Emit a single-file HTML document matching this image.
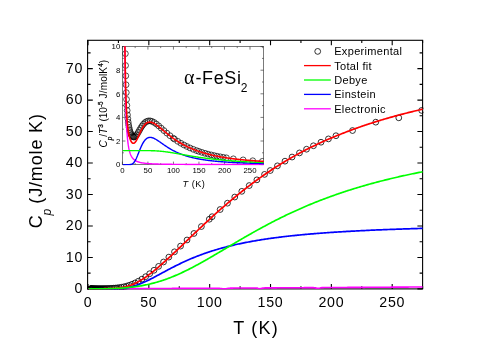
<!DOCTYPE html><html><head><meta charset="utf-8"><style>html,body{margin:0;padding:0;background:#fff}body{width:491px;height:347px;position:relative;overflow:hidden}</style></head><body><svg width="491" height="347" viewBox="0 0 491 347" style="position:absolute;left:0;top:0;will-change:transform">
<rect x="0" y="0" width="491" height="347" fill="#fff"/>
<defs><clipPath id="cm"><rect x="87.5" y="40" width="336" height="249.5"/></clipPath><clipPath id="ci"><rect x="122.2" y="46.3" width="141.6" height="119.2"/></clipPath></defs>
<g stroke="#000" stroke-width="1.1" fill="none">
<rect x="87.6" y="40.3" width="335" height="248.6"/>
<path d="M88.00,288.9v-5 M88.00,40.3v5 M118.42,288.9v-2.6 M118.42,40.3v2.6 M148.84,288.9v-5 M148.84,40.3v5 M179.26,288.9v-2.6 M179.26,40.3v2.6 M209.68,288.9v-5 M209.68,40.3v5 M240.10,288.9v-2.6 M240.10,40.3v2.6 M270.52,288.9v-5 M270.52,40.3v5 M300.94,288.9v-2.6 M300.94,40.3v2.6 M331.36,288.9v-5 M331.36,40.3v5 M361.78,288.9v-2.6 M361.78,40.3v2.6 M392.20,288.9v-5 M392.20,40.3v5 M422.62,288.9v-2.6 M422.62,40.3v2.6 M87.6,288.90h5.2 M422.6,288.90h-5.2 M87.6,273.16h3 M422.6,273.16h-3 M87.6,257.43h5.2 M422.6,257.43h-5.2 M87.6,241.69h3 M422.6,241.69h-3 M87.6,225.96h5.2 M422.6,225.96h-5.2 M87.6,210.22h3 M422.6,210.22h-3 M87.6,194.49h5.2 M422.6,194.49h-5.2 M87.6,178.75h3 M422.6,178.75h-3 M87.6,163.02h5.2 M422.6,163.02h-5.2 M87.6,147.28h3 M422.6,147.28h-3 M87.6,131.55h5.2 M422.6,131.55h-5.2 M87.6,115.81h3 M422.6,115.81h-3 M87.6,100.08h5.2 M422.6,100.08h-5.2 M87.6,84.34h3 M422.6,84.34h-3 M87.6,68.61h5.2 M422.6,68.61h-5.2 M87.6,52.88h3 M422.6,52.88h-3"/>
</g>
<g clip-path="url(#cm)">
<g stroke="#000" stroke-width="0.8" fill="none">
<circle cx="90.40" cy="288.88" r="2.9"/>
<circle cx="90.56" cy="288.88" r="2.9"/>
<circle cx="90.74" cy="288.88" r="2.9"/>
<circle cx="90.94" cy="288.88" r="2.9"/>
<circle cx="91.14" cy="288.88" r="2.9"/>
<circle cx="91.36" cy="288.88" r="2.9"/>
<circle cx="91.60" cy="288.87" r="2.9"/>
<circle cx="91.85" cy="288.87" r="2.9"/>
<circle cx="92.12" cy="288.87" r="2.9"/>
<circle cx="92.41" cy="288.87" r="2.9"/>
<circle cx="92.72" cy="288.86" r="2.9"/>
<circle cx="93.05" cy="288.86" r="2.9"/>
<circle cx="93.40" cy="288.86" r="2.9"/>
<circle cx="93.78" cy="288.85" r="2.9"/>
<circle cx="94.18" cy="288.85" r="2.9"/>
<circle cx="94.61" cy="288.85" r="2.9"/>
<circle cx="95.08" cy="288.84" r="2.9"/>
<circle cx="95.57" cy="288.84" r="2.9"/>
<circle cx="96.10" cy="288.83" r="2.9"/>
<circle cx="96.67" cy="288.82" r="2.9"/>
<circle cx="97.28" cy="288.81" r="2.9"/>
<circle cx="97.92" cy="288.81" r="2.9"/>
<circle cx="98.62" cy="288.79" r="2.9"/>
<circle cx="99.36" cy="288.78" r="2.9"/>
<circle cx="100.16" cy="288.77" r="2.9"/>
<circle cx="101.01" cy="288.75" r="2.9"/>
<circle cx="101.92" cy="288.73" r="2.9"/>
<circle cx="102.89" cy="288.71" r="2.9"/>
<circle cx="103.94" cy="288.68" r="2.9"/>
<circle cx="105.05" cy="288.64" r="2.9"/>
<circle cx="106.25" cy="288.60" r="2.9"/>
<circle cx="107.52" cy="288.55" r="2.9"/>
<circle cx="108.89" cy="288.49" r="2.9"/>
<circle cx="110.35" cy="288.42" r="2.9"/>
<circle cx="111.92" cy="288.33" r="2.9"/>
<circle cx="113.59" cy="288.21" r="2.9"/>
<circle cx="115.38" cy="288.06" r="2.9"/>
<circle cx="117.30" cy="287.86" r="2.9"/>
<circle cx="119.35" cy="287.60" r="2.9"/>
<circle cx="121.54" cy="287.25" r="2.9"/>
<circle cx="123.89" cy="286.78" r="2.9"/>
<circle cx="126.41" cy="286.16" r="2.9"/>
<circle cx="129.09" cy="285.34" r="2.9"/>
<circle cx="131.97" cy="284.28" r="2.9"/>
<circle cx="135.05" cy="282.93" r="2.9"/>
<circle cx="138.34" cy="281.24" r="2.9"/>
<circle cx="141.87" cy="279.17" r="2.9"/>
<circle cx="145.64" cy="276.68" r="2.9"/>
<circle cx="149.67" cy="273.73" r="2.9"/>
<circle cx="153.99" cy="270.29" r="2.9"/>
<circle cx="158.61" cy="266.37" r="2.9"/>
<circle cx="163.55" cy="261.98" r="2.9"/>
<circle cx="168.84" cy="257.12" r="2.9"/>
<circle cx="174.50" cy="251.82" r="2.9"/>
<circle cx="180.55" cy="246.11" r="2.9"/>
<circle cx="187.03" cy="239.99" r="2.9"/>
<circle cx="193.96" cy="233.46" r="2.9"/>
<circle cx="201.38" cy="226.54" r="2.9"/>
<circle cx="209.31" cy="219.24" r="2.9"/>
<circle cx="212.11" cy="216.69" r="2.9"/>
<circle cx="220.14" cy="209.52" r="2.9"/>
<circle cx="227.45" cy="203.19" r="2.9"/>
<circle cx="234.75" cy="197.05" r="2.9"/>
<circle cx="241.80" cy="191.33" r="2.9"/>
<circle cx="249.23" cy="185.55" r="2.9"/>
<circle cx="256.89" cy="179.84" r="2.9"/>
<circle cx="264.56" cy="174.39" r="2.9"/>
<circle cx="270.28" cy="170.51" r="2.9"/>
<circle cx="277.46" cy="165.83" r="2.9"/>
<circle cx="285.00" cy="161.17" r="2.9"/>
<circle cx="292.06" cy="157.04" r="2.9"/>
<circle cx="299.48" cy="152.92" r="2.9"/>
<circle cx="306.54" cy="149.22" r="2.9"/>
<circle cx="313.47" cy="145.77" r="2.9"/>
<circle cx="321.02" cy="142.22" r="2.9"/>
<circle cx="328.44" cy="138.91" r="2.9"/>
<circle cx="335.98" cy="135.72" r="2.9"/>
<circle cx="352.53" cy="130.54" r="2.9"/>
<circle cx="375.77" cy="122.16" r="2.9"/>
<circle cx="398.77" cy="117.83" r="2.9"/>
<circle cx="421.65" cy="110.40" r="2.9"/>
</g>
<path d="M88.61,288.90 L89.73,288.89 L90.84,288.88 L91.96,288.88 L93.08,288.87 L94.19,288.86 L95.31,288.86 L96.43,288.85 L97.55,288.85 L98.66,288.84 L99.78,288.83 L100.90,288.83 L102.01,288.82 L103.13,288.81 L104.25,288.81 L105.36,288.80 L106.48,288.79 L107.60,288.79 L108.72,288.78 L109.83,288.78 L110.95,288.77 L112.07,288.76 L113.18,288.76 L114.30,288.75 L115.42,288.74 L116.54,288.74 L117.65,288.73 L118.77,288.72 L119.89,288.72 L121.00,288.71 L122.12,288.71 L123.24,288.70 L124.36,288.69 L125.47,288.69 L126.59,288.68 L127.71,288.67 L128.82,288.67 L129.94,288.66 L131.06,288.66 L132.18,288.65 L133.29,288.64 L134.41,288.64 L135.53,288.63 L136.64,288.62 L137.76,288.62 L138.88,288.61 L139.99,288.60 L141.11,288.60 L142.23,288.59 L143.35,288.59 L144.46,288.58 L145.58,288.57 L146.70,288.57 L147.81,288.56 L148.93,288.55 L150.05,288.55 L151.17,288.54 L152.28,288.53 L153.40,288.53 L154.52,288.52 L155.63,288.52 L156.75,288.51 L157.87,288.50 L158.99,288.50 L160.10,288.49 L161.22,288.48 L162.34,288.48 L163.45,288.47 L164.57,288.46 L165.69,288.46 L166.81,288.45 L167.92,288.45 L169.04,288.44 L170.16,288.43 L171.27,288.43 L172.39,288.42 L173.51,288.41 L174.62,288.41 L175.74,288.40 L176.86,288.39 L177.98,288.39 L179.09,288.38 L180.21,288.38 L181.33,288.37 L182.44,288.36 L183.56,288.36 L184.68,288.35 L185.80,288.34 L186.91,288.34 L188.03,288.33 L189.15,288.32 L190.26,288.32 L191.38,288.31 L192.50,288.31 L193.62,288.30 L194.73,288.29 L195.85,288.29 L196.97,288.28 L198.08,288.27 L199.20,288.27 L200.32,288.26 L201.44,288.25 L202.55,288.25 L203.67,288.24 L204.79,288.24 L205.90,288.23 L207.02,288.22 L208.14,288.22 L209.25,288.21 L210.37,288.20 L211.49,288.20 L212.61,288.19 L213.72,288.18 L214.84,288.18 L215.96,288.18 L217.07,288.19 L218.19,288.22 L219.31,288.30 L220.43,288.44 L221.54,288.63 L222.66,288.82 L223.78,288.91 L224.89,288.87 L226.01,288.70 L227.13,288.49 L228.25,288.31 L229.36,288.19 L230.48,288.12 L231.60,288.09 L232.71,288.08 L233.83,288.07 L234.95,288.06 L236.07,288.06 L237.18,288.05 L238.30,288.04 L239.42,288.04 L240.53,288.03 L241.65,288.03 L242.77,288.02 L243.88,288.01 L245.00,288.01 L246.12,288.00 L247.24,287.99 L248.35,287.99 L249.47,287.98 L250.59,287.97 L251.70,287.97 L252.82,287.96 L253.94,287.96 L255.06,287.96 L256.17,288.00 L257.29,288.15 L258.41,288.43 L259.52,288.67 L260.64,288.66 L261.76,288.39 L262.88,288.11 L263.99,287.96 L265.11,287.90 L266.23,287.89 L267.34,287.88 L268.46,287.87 L269.58,287.87 L270.69,287.86 L271.81,287.85 L272.93,287.85 L274.05,287.84 L275.16,287.84 L276.28,287.83 L277.40,287.82 L278.51,287.82 L279.63,287.81 L280.75,287.80 L281.87,287.80 L282.98,287.79 L284.10,287.78 L285.22,287.78 L286.33,287.77 L287.45,287.77 L288.57,287.76 L289.69,287.75 L290.80,287.75 L291.92,287.74 L293.04,287.73 L294.15,287.73 L295.27,287.72 L296.39,287.71 L297.51,287.71 L298.62,287.70 L299.74,287.70 L300.86,287.69 L301.97,287.68 L303.09,287.68 L304.21,287.67 L305.32,287.66 L306.44,287.66 L307.56,287.65 L308.68,287.64 L309.79,287.64 L310.91,287.63 L312.03,287.64 L313.14,287.67 L314.26,287.75 L315.38,287.91 L316.50,288.10 L317.61,288.21 L318.73,288.18 L319.85,288.01 L320.96,287.81 L322.08,287.67 L323.20,287.59 L324.32,287.56 L325.43,287.55 L326.55,287.54 L327.67,287.54 L328.78,287.53 L329.90,287.52 L331.02,287.52 L332.14,287.51 L333.25,287.50 L334.37,287.50 L335.49,287.49 L336.60,287.49 L337.72,287.48 L338.84,287.47 L339.95,287.47 L341.07,287.46 L342.19,287.45 L343.31,287.45 L344.42,287.44 L345.54,287.43 L346.66,287.43 L347.77,287.42 L348.89,287.42 L350.01,287.41 L351.13,287.40 L352.24,287.40 L353.36,287.39 L354.48,287.38 L355.59,287.38 L356.71,287.37 L357.83,287.36 L358.95,287.36 L360.06,287.35 L361.18,287.35 L362.30,287.34 L363.41,287.33 L364.53,287.33 L365.65,287.32 L366.77,287.31 L367.88,287.31 L369.00,287.30 L370.12,287.29 L371.23,287.29 L372.35,287.28 L373.47,287.28 L374.58,287.27 L375.70,287.26 L376.82,287.26 L377.94,287.25 L379.05,287.24 L380.17,287.24 L381.29,287.23 L382.40,287.22 L383.52,287.22 L384.64,287.21 L385.76,287.21 L386.87,287.20 L387.99,287.19 L389.11,287.19 L390.22,287.18 L391.34,287.17 L392.46,287.17 L393.58,287.16 L394.69,287.15 L395.81,287.15 L396.93,287.14 L398.04,287.14 L399.16,287.13 L400.28,287.12 L401.40,287.12 L402.51,287.11 L403.63,287.10 L404.75,287.10 L405.86,287.09 L406.98,287.09 L408.10,287.08 L409.21,287.07 L410.33,287.07 L411.45,287.06 L412.57,287.05 L413.68,287.05 L414.80,287.04 L415.92,287.03 L417.03,287.03 L418.15,287.02 L419.27,287.02 L420.39,287.01 L421.50,287.00 L422.62,287.00" stroke="#ff00ff" stroke-width="1.6" fill="none"/>
<path d="M88.61,288.90 L89.73,288.90 L90.84,288.90 L91.96,288.90 L93.08,288.90 L94.19,288.90 L95.31,288.90 L96.43,288.90 L97.55,288.90 L98.66,288.90 L99.78,288.90 L100.90,288.90 L102.01,288.90 L103.13,288.90 L104.25,288.90 L105.36,288.90 L106.48,288.90 L107.60,288.90 L108.72,288.90 L109.83,288.90 L110.95,288.89 L112.07,288.88 L113.18,288.87 L114.30,288.86 L115.42,288.84 L116.54,288.81 L117.65,288.77 L118.77,288.72 L119.89,288.65 L121.00,288.57 L122.12,288.48 L123.24,288.36 L124.36,288.23 L125.47,288.08 L126.59,287.90 L127.71,287.70 L128.82,287.48 L129.94,287.24 L131.06,286.97 L132.18,286.68 L133.29,286.36 L134.41,286.03 L135.53,285.67 L136.64,285.28 L137.76,284.88 L138.88,284.46 L139.99,284.02 L141.11,283.56 L142.23,283.08 L143.35,282.59 L144.46,282.08 L145.58,281.56 L146.70,281.03 L147.81,280.48 L148.93,279.93 L150.05,279.37 L151.17,278.79 L152.28,278.21 L153.40,277.63 L154.52,277.04 L155.63,276.44 L156.75,275.85 L157.87,275.25 L158.99,274.64 L160.10,274.04 L161.22,273.44 L162.34,272.83 L163.45,272.23 L164.57,271.63 L165.69,271.03 L166.81,270.43 L167.92,269.84 L169.04,269.25 L170.16,268.66 L171.27,268.08 L172.39,267.51 L173.51,266.93 L174.62,266.37 L175.74,265.80 L176.86,265.25 L177.98,264.70 L179.09,264.15 L180.21,263.61 L181.33,263.08 L182.44,262.55 L183.56,262.03 L184.68,261.52 L185.80,261.01 L186.91,260.51 L188.03,260.02 L189.15,259.53 L190.26,259.05 L191.38,258.58 L192.50,258.11 L193.62,257.65 L194.73,257.20 L195.85,256.75 L196.97,256.31 L198.08,255.88 L199.20,255.45 L200.32,255.03 L201.44,254.61 L202.55,254.21 L203.67,253.80 L204.79,253.41 L205.90,253.02 L207.02,252.63 L208.14,252.26 L209.25,251.89 L210.37,251.52 L211.49,251.16 L212.61,250.80 L213.72,250.46 L214.84,250.11 L215.96,249.78 L217.07,249.44 L218.19,249.12 L219.31,248.79 L220.43,248.48 L221.54,248.17 L222.66,247.86 L223.78,247.56 L224.89,247.26 L226.01,246.97 L227.13,246.68 L228.25,246.40 L229.36,246.12 L230.48,245.85 L231.60,245.58 L232.71,245.31 L233.83,245.05 L234.95,244.79 L236.07,244.54 L237.18,244.29 L238.30,244.04 L239.42,243.80 L240.53,243.57 L241.65,243.33 L242.77,243.10 L243.88,242.88 L245.00,242.65 L246.12,242.43 L247.24,242.22 L248.35,242.00 L249.47,241.80 L250.59,241.59 L251.70,241.39 L252.82,241.19 L253.94,240.99 L255.06,240.80 L256.17,240.60 L257.29,240.42 L258.41,240.23 L259.52,240.05 L260.64,239.87 L261.76,239.69 L262.88,239.52 L263.99,239.35 L265.11,239.18 L266.23,239.01 L267.34,238.85 L268.46,238.68 L269.58,238.52 L270.69,238.37 L271.81,238.21 L272.93,238.06 L274.05,237.91 L275.16,237.76 L276.28,237.62 L277.40,237.47 L278.51,237.33 L279.63,237.19 L280.75,237.05 L281.87,236.92 L282.98,236.78 L284.10,236.65 L285.22,236.52 L286.33,236.39 L287.45,236.26 L288.57,236.14 L289.69,236.02 L290.80,235.89 L291.92,235.77 L293.04,235.66 L294.15,235.54 L295.27,235.42 L296.39,235.31 L297.51,235.20 L298.62,235.09 L299.74,234.98 L300.86,234.87 L301.97,234.77 L303.09,234.66 L304.21,234.56 L305.32,234.46 L306.44,234.36 L307.56,234.26 L308.68,234.16 L309.79,234.06 L310.91,233.97 L312.03,233.87 L313.14,233.78 L314.26,233.69 L315.38,233.60 L316.50,233.51 L317.61,233.42 L318.73,233.33 L319.85,233.24 L320.96,233.16 L322.08,233.08 L323.20,232.99 L324.32,232.91 L325.43,232.83 L326.55,232.75 L327.67,232.67 L328.78,232.59 L329.90,232.52 L331.02,232.44 L332.14,232.36 L333.25,232.29 L334.37,232.22 L335.49,232.14 L336.60,232.07 L337.72,232.00 L338.84,231.93 L339.95,231.86 L341.07,231.79 L342.19,231.73 L343.31,231.66 L344.42,231.59 L345.54,231.53 L346.66,231.46 L347.77,231.40 L348.89,231.34 L350.01,231.28 L351.13,231.21 L352.24,231.15 L353.36,231.09 L354.48,231.03 L355.59,230.98 L356.71,230.92 L357.83,230.86 L358.95,230.80 L360.06,230.75 L361.18,230.69 L362.30,230.64 L363.41,230.58 L364.53,230.53 L365.65,230.48 L366.77,230.42 L367.88,230.37 L369.00,230.32 L370.12,230.27 L371.23,230.22 L372.35,230.17 L373.47,230.12 L374.58,230.07 L375.70,230.02 L376.82,229.97 L377.94,229.93 L379.05,229.88 L380.17,229.83 L381.29,229.79 L382.40,229.74 L383.52,229.70 L384.64,229.65 L385.76,229.61 L386.87,229.57 L387.99,229.52 L389.11,229.48 L390.22,229.44 L391.34,229.40 L392.46,229.36 L393.58,229.32 L394.69,229.28 L395.81,229.24 L396.93,229.20 L398.04,229.16 L399.16,229.12 L400.28,229.08 L401.40,229.04 L402.51,229.00 L403.63,228.97 L404.75,228.93 L405.86,228.89 L406.98,228.86 L408.10,228.82 L409.21,228.79 L410.33,228.75 L411.45,228.72 L412.57,228.68 L413.68,228.65 L414.80,228.61 L415.92,228.58 L417.03,228.55 L418.15,228.51 L419.27,228.48 L420.39,228.45 L421.50,228.42 L422.62,228.39" stroke="#0000ff" stroke-width="1.7" fill="none"/>
<path d="M88.61,288.90 L89.73,288.89 L90.84,288.88 L91.96,288.88 L93.08,288.87 L94.19,288.86 L95.31,288.85 L96.43,288.84 L97.55,288.83 L98.66,288.81 L99.78,288.80 L100.90,288.78 L102.01,288.76 L103.13,288.74 L104.25,288.72 L105.36,288.69 L106.48,288.66 L107.60,288.63 L108.72,288.59 L109.83,288.55 L110.95,288.51 L112.07,288.46 L113.18,288.40 L114.30,288.33 L115.42,288.25 L116.54,288.16 L117.65,288.05 L118.77,287.93 L119.89,287.79 L121.00,287.63 L122.12,287.45 L123.24,287.24 L124.36,287.01 L125.47,286.75 L126.59,286.47 L127.71,286.15 L128.82,285.81 L129.94,285.44 L131.06,285.03 L132.18,284.60 L133.29,284.14 L134.41,283.64 L135.53,283.12 L136.64,282.57 L137.76,281.98 L138.88,281.37 L139.99,280.74 L141.11,280.07 L142.23,279.39 L143.35,278.67 L144.46,277.93 L145.58,277.18 L146.70,276.39 L147.81,275.59 L148.93,274.77 L150.05,273.93 L151.17,273.07 L152.28,272.20 L153.40,271.31 L154.52,270.41 L155.63,269.49 L156.75,268.55 L157.87,267.61 L158.99,266.65 L160.10,265.69 L161.22,264.71 L162.34,263.72 L163.45,262.73 L164.57,261.72 L165.69,260.71 L166.81,259.69 L167.92,258.67 L169.04,257.64 L170.16,256.60 L171.27,255.56 L172.39,254.51 L173.51,253.46 L174.62,252.41 L175.74,251.35 L176.86,250.29 L177.98,249.23 L179.09,248.16 L180.21,247.10 L181.33,246.03 L182.44,244.96 L183.56,243.89 L184.68,242.82 L185.80,241.74 L186.91,240.67 L188.03,239.60 L189.15,238.53 L190.26,237.46 L191.38,236.39 L192.50,235.32 L193.62,234.25 L194.73,233.18 L195.85,232.12 L196.97,231.06 L198.08,230.00 L199.20,228.94 L200.32,227.88 L201.44,226.83 L202.55,225.78 L203.67,224.73 L204.79,223.69 L205.90,222.65 L207.02,221.61 L208.14,220.58 L209.25,219.55 L210.37,218.52 L211.49,217.50 L212.61,216.48 L213.72,215.47 L214.84,214.46 L215.96,213.45 L217.07,212.45 L218.19,211.46 L219.31,210.46 L220.43,209.48 L221.54,208.49 L222.66,207.51 L223.78,206.54 L224.89,205.57 L226.01,204.61 L227.13,203.65 L228.25,202.70 L229.36,201.75 L230.48,200.80 L231.60,199.86 L232.71,198.93 L233.83,198.00 L234.95,197.08 L236.07,196.16 L237.18,195.25 L238.30,194.34 L239.42,193.44 L240.53,192.55 L241.65,191.66 L242.77,190.77 L243.88,189.89 L245.00,189.02 L246.12,188.15 L247.24,187.28 L248.35,186.43 L249.47,185.58 L250.59,184.73 L251.70,183.89 L252.82,183.05 L253.94,182.22 L255.06,181.40 L256.17,180.58 L257.29,179.77 L258.41,178.96 L259.52,178.16 L260.64,177.37 L261.76,176.58 L262.88,175.79 L263.99,175.01 L265.11,174.24 L266.23,173.47 L267.34,172.71 L268.46,171.96 L269.58,171.21 L270.69,170.46 L271.81,169.72 L272.93,168.99 L274.05,168.26 L275.16,167.54 L276.28,166.83 L277.40,166.12 L278.51,165.41 L279.63,164.71 L280.75,164.02 L281.87,163.33 L282.98,162.65 L284.10,161.97 L285.22,161.30 L286.33,160.63 L287.45,159.97 L288.57,159.32 L289.69,158.67 L290.80,158.02 L291.92,157.38 L293.04,156.75 L294.15,156.12 L295.27,155.50 L296.39,154.88 L297.51,154.27 L298.62,153.66 L299.74,153.06 L300.86,152.46 L301.97,151.87 L303.09,151.28 L304.21,150.70 L305.32,150.12 L306.44,149.55 L307.56,148.98 L308.68,148.42 L309.79,147.86 L310.91,147.31 L312.03,146.76 L313.14,146.22 L314.26,145.68 L315.38,145.15 L316.50,144.62 L317.61,144.09 L318.73,143.57 L319.85,143.05 L320.96,142.54 L322.08,142.03 L323.20,141.53 L324.32,141.03 L325.43,140.53 L326.55,140.04 L327.67,139.55 L328.78,139.07 L329.90,138.59 L331.02,138.11 L332.14,137.64 L333.25,137.17 L334.37,136.71 L335.49,136.24 L336.60,135.79 L337.72,135.33 L338.84,134.88 L339.95,134.43 L341.07,133.99 L342.19,133.55 L343.31,133.11 L344.42,132.68 L345.54,132.25 L346.66,131.82 L347.77,131.39 L348.89,130.97 L350.01,130.55 L351.13,130.14 L352.24,129.73 L353.36,129.32 L354.48,128.91 L355.59,128.51 L356.71,128.11 L357.83,127.72 L358.95,127.32 L360.06,126.93 L361.18,126.54 L362.30,126.16 L363.41,125.78 L364.53,125.40 L365.65,125.02 L366.77,124.65 L367.88,124.28 L369.00,123.91 L370.12,123.55 L371.23,123.19 L372.35,122.83 L373.47,122.47 L374.58,122.12 L375.70,121.77 L376.82,121.42 L377.94,121.07 L379.05,120.73 L380.17,120.39 L381.29,120.05 L382.40,119.72 L383.52,119.38 L384.64,119.05 L385.76,118.73 L386.87,118.40 L387.99,118.08 L389.11,117.76 L390.22,117.44 L391.34,117.12 L392.46,116.81 L393.58,116.50 L394.69,116.19 L395.81,115.89 L396.93,115.58 L398.04,115.28 L399.16,114.98 L400.28,114.69 L401.40,114.39 L402.51,114.10 L403.63,113.81 L404.75,113.52 L405.86,113.24 L406.98,112.95 L408.10,112.67 L409.21,112.39 L410.33,112.11 L411.45,111.84 L412.57,111.57 L413.68,111.29 L414.80,111.03 L415.92,110.76 L417.03,110.49 L418.15,110.23 L419.27,109.97 L420.39,109.71 L421.50,109.45 L422.62,109.20" stroke="#ff0000" stroke-width="1.7" fill="none"/>
<path d="M88.61,288.90 L89.73,288.90 L90.84,288.90 L91.96,288.90 L93.08,288.90 L94.19,288.90 L95.31,288.89 L96.43,288.89 L97.55,288.88 L98.66,288.87 L99.78,288.87 L100.90,288.86 L102.01,288.84 L103.13,288.83 L104.25,288.81 L105.36,288.79 L106.48,288.77 L107.60,288.74 L108.72,288.72 L109.83,288.68 L110.95,288.65 L112.07,288.61 L113.18,288.57 L114.30,288.52 L115.42,288.47 L116.54,288.42 L117.65,288.36 L118.77,288.30 L119.89,288.23 L121.00,288.16 L122.12,288.08 L123.24,287.99 L124.36,287.90 L125.47,287.81 L126.59,287.71 L127.71,287.60 L128.82,287.49 L129.94,287.37 L131.06,287.25 L132.18,287.11 L133.29,286.98 L134.41,286.83 L135.53,286.68 L136.64,286.52 L137.76,286.35 L138.88,286.17 L139.99,285.99 L141.11,285.80 L142.23,285.60 L143.35,285.39 L144.46,285.17 L145.58,284.95 L146.70,284.72 L147.81,284.47 L148.93,284.22 L150.05,283.96 L151.17,283.69 L152.28,283.41 L153.40,283.13 L154.52,282.83 L155.63,282.52 L156.75,282.21 L157.87,281.88 L158.99,281.55 L160.10,281.20 L161.22,280.85 L162.34,280.49 L163.45,280.11 L164.57,279.73 L165.69,279.34 L166.81,278.94 L167.92,278.53 L169.04,278.11 L170.16,277.68 L171.27,277.24 L172.39,276.80 L173.51,276.34 L174.62,275.88 L175.74,275.40 L176.86,274.92 L177.98,274.43 L179.09,273.94 L180.21,273.43 L181.33,272.92 L182.44,272.39 L183.56,271.87 L184.68,271.33 L185.80,270.79 L186.91,270.24 L188.03,269.68 L189.15,269.12 L190.26,268.55 L191.38,267.97 L192.50,267.39 L193.62,266.81 L194.73,266.21 L195.85,265.62 L196.97,265.01 L198.08,264.41 L199.20,263.79 L200.32,263.18 L201.44,262.56 L202.55,261.93 L203.67,261.30 L204.79,260.67 L205.90,260.04 L207.02,259.40 L208.14,258.76 L209.25,258.11 L210.37,257.47 L211.49,256.82 L212.61,256.17 L213.72,255.51 L214.84,254.86 L215.96,254.20 L217.07,253.54 L218.19,252.88 L219.31,252.22 L220.43,251.56 L221.54,250.90 L222.66,250.24 L223.78,249.57 L224.89,248.91 L226.01,248.25 L227.13,247.59 L228.25,246.92 L229.36,246.26 L230.48,245.60 L231.60,244.94 L232.71,244.28 L233.83,243.61 L234.95,242.96 L236.07,242.30 L237.18,241.64 L238.30,240.99 L239.42,240.33 L240.53,239.68 L241.65,239.03 L242.77,238.38 L243.88,237.73 L245.00,237.09 L246.12,236.44 L247.24,235.80 L248.35,235.16 L249.47,234.53 L250.59,233.89 L251.70,233.26 L252.82,232.63 L253.94,232.00 L255.06,231.38 L256.17,230.75 L257.29,230.13 L258.41,229.52 L259.52,228.90 L260.64,228.29 L261.76,227.68 L262.88,227.08 L263.99,226.48 L265.11,225.88 L266.23,225.28 L267.34,224.69 L268.46,224.10 L269.58,223.51 L270.69,222.93 L271.81,222.35 L272.93,221.77 L274.05,221.20 L275.16,220.62 L276.28,220.06 L277.40,219.49 L278.51,218.93 L279.63,218.38 L280.75,217.82 L281.87,217.27 L282.98,216.72 L284.10,216.18 L285.22,215.64 L286.33,215.10 L287.45,214.57 L288.57,214.04 L289.69,213.51 L290.80,212.99 L291.92,212.47 L293.04,211.95 L294.15,211.44 L295.27,210.93 L296.39,210.42 L297.51,209.92 L298.62,209.42 L299.74,208.92 L300.86,208.43 L301.97,207.94 L303.09,207.46 L304.21,206.97 L305.32,206.50 L306.44,206.02 L307.56,205.55 L308.68,205.08 L309.79,204.61 L310.91,204.15 L312.03,203.69 L313.14,203.24 L314.26,202.78 L315.38,202.33 L316.50,201.89 L317.61,201.45 L318.73,201.01 L319.85,200.57 L320.96,200.14 L322.08,199.71 L323.20,199.28 L324.32,198.86 L325.43,198.44 L326.55,198.02 L327.67,197.61 L328.78,197.20 L329.90,196.79 L331.02,196.38 L332.14,195.98 L333.25,195.58 L334.37,195.19 L335.49,194.79 L336.60,194.40 L337.72,194.02 L338.84,193.63 L339.95,193.25 L341.07,192.87 L342.19,192.50 L343.31,192.13 L344.42,191.76 L345.54,191.39 L346.66,191.02 L347.77,190.66 L348.89,190.30 L350.01,189.95 L351.13,189.60 L352.24,189.25 L353.36,188.90 L354.48,188.55 L355.59,188.21 L356.71,187.87 L357.83,187.53 L358.95,187.20 L360.06,186.87 L361.18,186.54 L362.30,186.21 L363.41,185.88 L364.53,185.56 L365.65,185.24 L366.77,184.92 L367.88,184.61 L369.00,184.30 L370.12,183.99 L371.23,183.68 L372.35,183.37 L373.47,183.07 L374.58,182.77 L375.70,182.47 L376.82,182.18 L377.94,181.88 L379.05,181.59 L380.17,181.30 L381.29,181.01 L382.40,180.73 L383.52,180.45 L384.64,180.16 L385.76,179.89 L386.87,179.61 L387.99,179.33 L389.11,179.06 L390.22,178.79 L391.34,178.52 L392.46,178.26 L393.58,177.99 L394.69,177.73 L395.81,177.47 L396.93,177.21 L398.04,176.96 L399.16,176.70 L400.28,176.45 L401.40,176.20 L402.51,175.95 L403.63,175.70 L404.75,175.46 L405.86,175.21 L406.98,174.97 L408.10,174.73 L409.21,174.50 L410.33,174.26 L411.45,174.03 L412.57,173.79 L413.68,173.56 L414.80,173.33 L415.92,173.11 L417.03,172.88 L418.15,172.66 L419.27,172.43 L420.39,172.21 L421.50,171.99 L422.62,171.78" stroke="#00ff00" stroke-width="1.7" fill="none"/>
</g>
<g stroke="#222" stroke-width="0.6" fill="none">
<rect x="122.4" y="46.60" width="141.10" height="118.00"/>
<path d="M122.40,164.6v-3 M122.40,46.60v3 M135.16,164.6v-1.5 M135.16,46.60v1.5 M147.92,164.6v-3 M147.92,46.60v3 M160.68,164.6v-1.5 M160.68,46.60v1.5 M173.44,164.6v-3 M173.44,46.60v3 M186.20,164.6v-1.5 M186.20,46.60v1.5 M198.96,164.6v-3 M198.96,46.60v3 M211.72,164.6v-1.5 M211.72,46.60v1.5 M224.48,164.6v-3 M224.48,46.60v3 M237.24,164.6v-1.5 M237.24,46.60v1.5 M250.00,164.6v-3 M250.00,46.60v3 M262.76,164.6v-1.5 M262.76,46.60v1.5 M122.4,164.60h3 M263.5,164.60h-3 M122.4,152.80h1.5 M263.5,152.80h-1.5 M122.4,141.00h3 M263.5,141.00h-3 M122.4,129.20h1.5 M263.5,129.20h-1.5 M122.4,117.40h3 M263.5,117.40h-3 M122.4,105.60h1.5 M263.5,105.60h-1.5 M122.4,93.80h3 M263.5,93.80h-3 M122.4,82.00h1.5 M263.5,82.00h-1.5 M122.4,70.20h3 M263.5,70.20h-3 M122.4,58.40h1.5 M263.5,58.40h-1.5 M122.4,46.60h3 M263.5,46.60h-3"/>
</g>
<g clip-path="url(#ci)">
<g stroke="#000" stroke-width="0.68" fill="none">
<circle cx="124.99" cy="24.57" r="2.9"/>
<circle cx="125.17" cy="40.11" r="2.9"/>
<circle cx="125.37" cy="53.67" r="2.9"/>
<circle cx="125.58" cy="65.49" r="2.9"/>
<circle cx="125.80" cy="75.80" r="2.9"/>
<circle cx="126.04" cy="84.78" r="2.9"/>
<circle cx="126.29" cy="92.60" r="2.9"/>
<circle cx="126.56" cy="99.40" r="2.9"/>
<circle cx="126.85" cy="105.32" r="2.9"/>
<circle cx="127.17" cy="110.47" r="2.9"/>
<circle cx="127.50" cy="114.93" r="2.9"/>
<circle cx="127.86" cy="118.81" r="2.9"/>
<circle cx="128.24" cy="122.16" r="2.9"/>
<circle cx="128.65" cy="125.07" r="2.9"/>
<circle cx="129.08" cy="127.58" r="2.9"/>
<circle cx="129.55" cy="129.74" r="2.9"/>
<circle cx="130.05" cy="131.61" r="2.9"/>
<circle cx="130.59" cy="133.19" r="2.9"/>
<circle cx="131.16" cy="134.52" r="2.9"/>
<circle cx="131.78" cy="135.59" r="2.9"/>
<circle cx="132.43" cy="136.39" r="2.9"/>
<circle cx="133.13" cy="136.88" r="2.9"/>
<circle cx="133.89" cy="137.03" r="2.9"/>
<circle cx="134.69" cy="136.80" r="2.9"/>
<circle cx="135.55" cy="136.15" r="2.9"/>
<circle cx="136.47" cy="135.10" r="2.9"/>
<circle cx="137.46" cy="133.66" r="2.9"/>
<circle cx="138.51" cy="131.91" r="2.9"/>
<circle cx="139.64" cy="129.94" r="2.9"/>
<circle cx="140.84" cy="127.88" r="2.9"/>
<circle cx="142.13" cy="125.88" r="2.9"/>
<circle cx="143.52" cy="124.06" r="2.9"/>
<circle cx="144.99" cy="122.56" r="2.9"/>
<circle cx="146.58" cy="121.48" r="2.9"/>
<circle cx="148.27" cy="120.90" r="2.9"/>
<circle cx="150.08" cy="120.85" r="2.9"/>
<circle cx="152.02" cy="121.37" r="2.9"/>
<circle cx="154.09" cy="122.42" r="2.9"/>
<circle cx="156.31" cy="123.96" r="2.9"/>
<circle cx="158.68" cy="125.89" r="2.9"/>
<circle cx="161.22" cy="128.13" r="2.9"/>
<circle cx="163.94" cy="130.58" r="2.9"/>
<circle cx="166.85" cy="133.12" r="2.9"/>
<circle cx="169.96" cy="135.70" r="2.9"/>
<circle cx="173.29" cy="138.24" r="2.9"/>
<circle cx="174.46" cy="139.09" r="2.9"/>
<circle cx="177.83" cy="141.36" r="2.9"/>
<circle cx="180.89" cy="143.25" r="2.9"/>
<circle cx="183.95" cy="144.97" r="2.9"/>
<circle cx="186.91" cy="146.48" r="2.9"/>
<circle cx="190.03" cy="147.94" r="2.9"/>
<circle cx="193.24" cy="149.31" r="2.9"/>
<circle cx="196.46" cy="150.55" r="2.9"/>
<circle cx="198.86" cy="151.39" r="2.9"/>
<circle cx="201.87" cy="152.37" r="2.9"/>
<circle cx="205.03" cy="153.31" r="2.9"/>
<circle cx="207.99" cy="154.12" r="2.9"/>
<circle cx="211.11" cy="154.89" r="2.9"/>
<circle cx="214.07" cy="155.56" r="2.9"/>
<circle cx="216.98" cy="156.16" r="2.9"/>
<circle cx="220.14" cy="156.77" r="2.9"/>
<circle cx="223.26" cy="157.31" r="2.9"/>
<circle cx="226.42" cy="157.81" r="2.9"/>
<circle cx="233.36" cy="158.82" r="2.9"/>
<circle cx="243.11" cy="159.87" r="2.9"/>
<circle cx="252.76" cy="160.75" r="2.9"/>
<circle cx="262.35" cy="161.35" r="2.9"/>
</g>
<path d="M122.91,-0.60 L122.98,-0.60 L123.06,-0.60 L123.13,-0.60 L123.21,-0.60 L123.28,-0.60 L123.36,-0.60 L123.43,-0.60 L123.51,-0.60 L123.58,-0.60 L123.65,-0.60 L123.73,-0.60 L123.80,-0.60 L123.88,-0.60 L123.95,-0.60 L124.03,-0.60 L124.10,-0.60 L124.17,-0.60 L124.25,-0.60 L124.32,-0.60 L124.40,-0.60 L124.47,7.13 L124.55,17.86 L124.62,27.52 L124.70,36.26 L124.77,44.19 L124.84,51.41 L124.92,57.99 L124.99,64.02 L125.07,69.55 L125.14,74.64 L125.22,79.33 L125.29,83.66 L125.36,87.67 L125.44,91.39 L125.51,94.85 L125.59,98.06 L125.66,101.06 L125.74,103.86 L125.81,106.48 L125.89,108.94 L125.96,111.24 L126.03,113.40 L126.11,115.43 L126.18,117.35 L126.26,119.15 L126.33,120.86 L126.41,122.46 L126.48,123.99 L126.56,125.43 L126.63,126.79 L126.70,128.09 L126.78,129.32 L126.85,130.49 L126.93,131.60 L127.00,132.66 L127.08,133.67 L127.15,134.63 L127.22,135.54 L127.30,136.42 L127.37,137.26 L127.45,138.06 L127.52,138.82 L127.60,139.55 L127.67,140.26 L127.75,140.93 L127.82,141.57 L127.89,142.19 L127.97,142.79 L128.04,143.36 L128.12,143.91 L128.19,144.44 L128.27,144.94 L128.34,145.43 L128.41,145.91 L128.49,146.36 L128.56,146.80 L128.64,147.22 L128.71,147.63 L128.79,148.02 L128.86,148.40 L128.94,148.77 L129.01,149.12 L129.08,149.46 L129.16,149.79 L129.23,150.11 L129.31,150.42 L129.38,150.72 L129.46,151.02 L129.53,151.30 L129.60,151.57 L129.68,151.84 L129.75,152.09 L129.83,152.34 L129.90,152.58 L129.98,152.82 L130.05,153.05 L130.13,153.27 L130.20,153.48 L130.27,153.69 L130.35,153.90 L130.42,154.09 L130.50,154.29 L130.57,154.47 L130.65,154.65 L130.72,154.83 L130.79,155.00 L130.87,155.17 L130.94,155.33 L131.02,155.49 L131.09,155.65 L131.17,155.80 L131.24,155.95 L131.32,156.09 L131.39,156.23 L131.46,156.37 L131.54,156.50 L131.61,156.63 L131.69,156.76 L131.76,156.88 L131.84,157.00 L131.91,157.12 L131.98,157.24 L132.06,157.35 L132.13,157.46 L132.21,157.57 L132.28,157.68 L132.36,157.78 L132.43,157.88 L132.51,157.98 L132.58,158.07 L132.65,158.17 L132.73,158.26 L132.80,158.35 L132.88,158.44 L132.95,158.53 L133.03,158.61 L133.10,158.69 L133.17,158.77 L133.25,158.85 L133.32,158.93 L133.40,159.01 L133.47,159.08 L133.55,159.16 L133.62,159.23 L133.70,159.30 L133.77,159.37 L133.84,159.44 L133.92,159.50 L133.99,159.57 L134.07,159.63 L134.14,159.69 L134.22,159.76 L134.29,159.82 L134.36,159.88 L134.44,159.93 L134.51,159.99 L134.59,160.05 L134.66,160.10 L134.74,160.16 L134.81,160.21 L134.89,160.26 L134.96,160.31 L135.03,160.36 L135.11,160.41 L135.18,160.46 L135.26,160.51 L135.33,160.56 L135.41,160.60 L135.48,160.65 L135.55,160.69 L135.63,160.74 L135.70,160.78 L135.78,160.82 L135.85,160.86 L135.93,160.90 L136.00,160.94 L136.08,160.98 L136.15,161.02 L136.22,161.06 L136.30,161.10 L136.37,161.14 L136.45,161.17 L136.52,161.21 L136.60,161.24 L136.67,161.28 L136.75,161.31 L136.82,161.35 L136.89,161.38 L136.97,161.41 L137.04,161.45 L137.12,161.48 L137.19,161.51 L137.27,161.54 L137.34,161.57 L137.41,161.60 L137.49,161.63 L137.56,161.66 L137.64,161.69 L137.71,161.72 L137.81,161.75 L138.24,161.90 L138.67,162.04 L139.09,162.17 L139.52,162.29 L139.95,162.40 L140.37,162.51 L140.80,162.60 L141.23,162.69 L141.65,162.78 L142.08,162.85 L142.50,162.93 L142.93,163.00 L143.36,163.06 L143.78,163.12 L144.21,163.18 L144.64,163.23 L145.06,163.28 L145.49,163.33 L145.92,163.38 L146.34,163.42 L146.77,163.46 L147.20,163.50 L147.62,163.54 L148.05,163.57 L148.47,163.61 L148.90,163.64 L149.33,163.67 L149.75,163.70 L150.18,163.72 L150.61,163.75 L151.03,163.78 L151.46,163.80 L151.89,163.82 L152.31,163.84 L152.74,163.87 L153.17,163.89 L153.59,163.90 L154.02,163.92 L154.44,163.94 L154.87,163.96 L155.30,163.98 L155.72,163.99 L156.15,164.01 L156.58,164.02 L157.00,164.04 L157.43,164.05 L157.86,164.06 L158.28,164.07 L158.71,164.09 L159.13,164.10 L159.56,164.11 L159.99,164.12 L160.41,164.13 L160.84,164.14 L161.27,164.15 L161.69,164.16 L162.12,164.17 L162.55,164.18 L162.97,164.19 L163.40,164.20 L163.83,164.21 L164.25,164.21 L164.68,164.22 L165.10,164.23 L165.53,164.24 L165.96,164.24 L166.38,164.25 L166.81,164.26 L167.24,164.26 L167.66,164.27 L168.09,164.28 L168.52,164.28 L168.94,164.29 L169.37,164.29 L169.80,164.30 L170.22,164.30 L170.65,164.31 L171.07,164.31 L171.50,164.32 L171.93,164.32 L172.35,164.33 L172.78,164.33 L173.21,164.34 L173.63,164.34 L174.06,164.35 L174.49,164.35 L174.91,164.35 L175.34,164.36 L175.76,164.36 L176.19,164.37 L176.62,164.37 L177.04,164.37 L177.47,164.38 L177.90,164.38 L178.32,164.38 L178.75,164.39 L179.18,164.39 L179.60,164.39 L180.03,164.40 L180.46,164.40 L180.88,164.40 L181.31,164.41 L181.73,164.41 L182.16,164.41 L182.59,164.41 L183.01,164.42 L183.44,164.42 L183.87,164.42 L184.29,164.42 L184.72,164.43 L185.15,164.43 L185.57,164.43 L186.00,164.43 L186.43,164.44 L186.85,164.44 L187.28,164.44 L187.70,164.44 L188.13,164.44 L188.56,164.45 L188.98,164.45 L189.41,164.45 L189.84,164.45 L190.26,164.45 L190.69,164.45 L191.12,164.46 L191.54,164.46 L191.97,164.46 L192.40,164.46 L192.82,164.46 L193.25,164.47 L193.67,164.47 L194.10,164.47 L194.53,164.47 L194.95,164.47 L195.38,164.47 L195.81,164.47 L196.23,164.48 L196.66,164.48 L197.09,164.48 L197.51,164.48 L197.94,164.48 L198.36,164.48 L198.79,164.48 L199.22,164.49 L199.64,164.49 L200.07,164.49 L200.50,164.49 L200.92,164.49 L201.35,164.49 L201.78,164.49 L202.20,164.49 L202.63,164.49 L203.06,164.50 L203.48,164.50 L203.91,164.50 L204.33,164.50 L204.76,164.50 L205.19,164.50 L205.61,164.50 L206.04,164.50 L206.47,164.50 L206.89,164.51 L207.32,164.51 L207.75,164.51 L208.17,164.51 L208.60,164.51 L209.03,164.51 L209.45,164.51 L209.88,164.51 L210.30,164.51 L210.73,164.51 L211.16,164.51 L211.58,164.51 L212.01,164.52 L212.44,164.52 L212.86,164.52 L213.29,164.52 L213.72,164.52 L214.14,164.52 L214.57,164.52 L215.00,164.52 L215.42,164.52 L215.85,164.52 L216.27,164.52 L216.70,164.52 L217.13,164.52 L217.55,164.53 L217.98,164.53 L218.41,164.53 L218.83,164.53 L219.26,164.53 L219.69,164.53 L220.11,164.53 L220.54,164.53 L220.96,164.53 L221.39,164.53 L221.82,164.53 L222.24,164.53 L222.67,164.53 L223.10,164.53 L223.52,164.53 L223.95,164.53 L224.38,164.53 L224.80,164.54 L225.23,164.54 L225.66,164.54 L226.08,164.54 L226.51,164.54 L226.93,164.54 L227.36,164.54 L227.79,164.54 L228.21,164.54 L228.64,164.54 L229.07,164.54 L229.49,164.54 L229.92,164.54 L230.35,164.54 L230.77,164.54 L231.20,164.54 L231.63,164.54 L232.05,164.54 L232.48,164.54 L232.90,164.54 L233.33,164.55 L233.76,164.55 L234.18,164.55 L234.61,164.55 L235.04,164.55 L235.46,164.55 L235.89,164.55 L236.32,164.55 L236.74,164.55 L237.17,164.55 L237.60,164.55 L238.02,164.55 L238.45,164.55 L238.87,164.55 L239.30,164.55 L239.73,164.55 L240.15,164.55 L240.58,164.55 L241.01,164.55 L241.43,164.55 L241.86,164.55 L242.29,164.55 L242.71,164.55 L243.14,164.55 L243.56,164.55 L243.99,164.55 L244.42,164.55 L244.84,164.55 L245.27,164.56 L245.70,164.56 L246.12,164.56 L246.55,164.56 L246.98,164.56 L247.40,164.56 L247.83,164.56 L248.26,164.56 L248.68,164.56 L249.11,164.56 L249.53,164.56 L249.96,164.56 L250.39,164.56 L250.81,164.56 L251.24,164.56 L251.67,164.56 L252.09,164.56 L252.52,164.56 L252.95,164.56 L253.37,164.56 L253.80,164.56 L254.23,164.56 L254.65,164.56 L255.08,164.56 L255.50,164.56 L255.93,164.56 L256.36,164.56 L256.78,164.56 L257.21,164.56 L257.64,164.56 L258.06,164.56 L258.49,164.56 L258.92,164.56 L259.34,164.56 L259.77,164.56 L260.20,164.56 L260.62,164.56 L261.05,164.56 L261.47,164.57 L261.90,164.57 L262.33,164.57 L262.75,164.57 L263.18,164.57 L263.61,164.57 L264.03,164.57 L264.46,164.57 L264.89,164.57 L265.31,164.57" stroke="#ff00ff" stroke-width="1.4" fill="none"/>
<path d="M122.91,164.60 L122.98,164.60 L123.06,164.60 L123.13,164.60 L123.21,164.60 L123.28,164.60 L123.36,164.60 L123.43,164.60 L123.51,164.60 L123.58,164.60 L123.65,164.60 L123.73,164.60 L123.80,164.60 L123.88,164.60 L123.95,164.60 L124.03,164.60 L124.10,164.60 L124.17,164.60 L124.25,164.60 L124.32,164.60 L124.40,164.60 L124.47,164.60 L124.55,164.60 L124.62,164.60 L124.70,164.60 L124.77,164.60 L124.84,164.60 L124.92,164.60 L124.99,164.60 L125.07,164.60 L125.14,164.60 L125.22,164.60 L125.29,164.60 L125.36,164.60 L125.44,164.60 L125.51,164.60 L125.59,164.60 L125.66,164.60 L125.74,164.60 L125.81,164.60 L125.89,164.60 L125.96,164.60 L126.03,164.60 L126.11,164.60 L126.18,164.60 L126.26,164.60 L126.33,164.60 L126.41,164.60 L126.48,164.60 L126.56,164.60 L126.63,164.60 L126.70,164.60 L126.78,164.60 L126.85,164.60 L126.93,164.60 L127.00,164.60 L127.08,164.60 L127.15,164.60 L127.22,164.60 L127.30,164.60 L127.37,164.60 L127.45,164.60 L127.52,164.60 L127.60,164.60 L127.67,164.60 L127.75,164.60 L127.82,164.60 L127.89,164.60 L127.97,164.60 L128.04,164.60 L128.12,164.60 L128.19,164.60 L128.27,164.60 L128.34,164.60 L128.41,164.60 L128.49,164.60 L128.56,164.60 L128.64,164.60 L128.71,164.60 L128.79,164.60 L128.86,164.60 L128.94,164.60 L129.01,164.60 L129.08,164.59 L129.16,164.59 L129.23,164.59 L129.31,164.59 L129.38,164.59 L129.46,164.59 L129.53,164.58 L129.60,164.58 L129.68,164.58 L129.75,164.58 L129.83,164.57 L129.90,164.57 L129.98,164.56 L130.05,164.56 L130.13,164.55 L130.20,164.55 L130.27,164.54 L130.35,164.54 L130.42,164.53 L130.50,164.52 L130.57,164.51 L130.65,164.50 L130.72,164.49 L130.79,164.48 L130.87,164.46 L130.94,164.45 L131.02,164.44 L131.09,164.42 L131.17,164.40 L131.24,164.38 L131.32,164.36 L131.39,164.34 L131.46,164.32 L131.54,164.30 L131.61,164.27 L131.69,164.25 L131.76,164.22 L131.84,164.19 L131.91,164.16 L131.98,164.12 L132.06,164.09 L132.13,164.05 L132.21,164.01 L132.28,163.97 L132.36,163.93 L132.43,163.88 L132.51,163.83 L132.58,163.78 L132.65,163.73 L132.73,163.68 L132.80,163.62 L132.88,163.57 L132.95,163.51 L133.03,163.44 L133.10,163.38 L133.17,163.31 L133.25,163.24 L133.32,163.17 L133.40,163.09 L133.47,163.02 L133.55,162.94 L133.62,162.86 L133.70,162.77 L133.77,162.69 L133.84,162.60 L133.92,162.50 L133.99,162.41 L134.07,162.31 L134.14,162.21 L134.22,162.11 L134.29,162.01 L134.36,161.90 L134.44,161.79 L134.51,161.68 L134.59,161.57 L134.66,161.45 L134.74,161.33 L134.81,161.21 L134.89,161.09 L134.96,160.96 L135.03,160.83 L135.11,160.70 L135.18,160.57 L135.26,160.43 L135.33,160.30 L135.41,160.16 L135.48,160.02 L135.55,159.87 L135.63,159.73 L135.70,159.58 L135.78,159.43 L135.85,159.28 L135.93,159.13 L136.00,158.97 L136.08,158.82 L136.15,158.66 L136.22,158.50 L136.30,158.34 L136.37,158.17 L136.45,158.01 L136.52,157.84 L136.60,157.68 L136.67,157.51 L136.75,157.34 L136.82,157.17 L136.89,156.99 L136.97,156.82 L137.04,156.64 L137.12,156.47 L137.19,156.29 L137.27,156.11 L137.34,155.93 L137.41,155.75 L137.49,155.57 L137.56,155.39 L137.64,155.21 L137.71,155.03 L137.81,154.78 L138.24,153.72 L138.67,152.65 L139.09,151.58 L139.52,150.52 L139.95,149.48 L140.37,148.46 L140.80,147.48 L141.23,146.53 L141.65,145.62 L142.08,144.75 L142.50,143.93 L142.93,143.15 L143.36,142.43 L143.78,141.76 L144.21,141.14 L144.64,140.57 L145.06,140.05 L145.49,139.59 L145.92,139.17 L146.34,138.80 L146.77,138.48 L147.20,138.20 L147.62,137.97 L148.05,137.78 L148.47,137.63 L148.90,137.51 L149.33,137.43 L149.75,137.39 L150.18,137.37 L150.61,137.39 L151.03,137.43 L151.46,137.50 L151.89,137.60 L152.31,137.71 L152.74,137.85 L153.17,138.01 L153.59,138.18 L154.02,138.37 L154.44,138.57 L154.87,138.79 L155.30,139.02 L155.72,139.26 L156.15,139.51 L156.58,139.77 L157.00,140.04 L157.43,140.31 L157.86,140.59 L158.28,140.88 L158.71,141.16 L159.13,141.46 L159.56,141.75 L159.99,142.05 L160.41,142.35 L160.84,142.65 L161.27,142.95 L161.69,143.25 L162.12,143.55 L162.55,143.85 L162.97,144.15 L163.40,144.44 L163.83,144.74 L164.25,145.04 L164.68,145.33 L165.10,145.62 L165.53,145.91 L165.96,146.19 L166.38,146.47 L166.81,146.75 L167.24,147.03 L167.66,147.30 L168.09,147.57 L168.52,147.84 L168.94,148.10 L169.37,148.36 L169.80,148.62 L170.22,148.87 L170.65,149.12 L171.07,149.37 L171.50,149.61 L171.93,149.85 L172.35,150.09 L172.78,150.32 L173.21,150.55 L173.63,150.77 L174.06,150.99 L174.49,151.21 L174.91,151.42 L175.34,151.63 L175.76,151.84 L176.19,152.04 L176.62,152.24 L177.04,152.44 L177.47,152.63 L177.90,152.82 L178.32,153.01 L178.75,153.19 L179.18,153.37 L179.60,153.55 L180.03,153.72 L180.46,153.89 L180.88,154.06 L181.31,154.22 L181.73,154.38 L182.16,154.54 L182.59,154.70 L183.01,154.85 L183.44,155.00 L183.87,155.15 L184.29,155.30 L184.72,155.44 L185.15,155.58 L185.57,155.72 L186.00,155.85 L186.43,155.98 L186.85,156.11 L187.28,156.24 L187.70,156.37 L188.13,156.49 L188.56,156.61 L188.98,156.73 L189.41,156.85 L189.84,156.96 L190.26,157.08 L190.69,157.19 L191.12,157.30 L191.54,157.40 L191.97,157.51 L192.40,157.61 L192.82,157.71 L193.25,157.81 L193.67,157.91 L194.10,158.01 L194.53,158.10 L194.95,158.19 L195.38,158.28 L195.81,158.37 L196.23,158.46 L196.66,158.55 L197.09,158.63 L197.51,158.72 L197.94,158.80 L198.36,158.88 L198.79,158.96 L199.22,159.04 L199.64,159.11 L200.07,159.19 L200.50,159.26 L200.92,159.33 L201.35,159.41 L201.78,159.48 L202.20,159.54 L202.63,159.61 L203.06,159.68 L203.48,159.74 L203.91,159.81 L204.33,159.87 L204.76,159.93 L205.19,160.00 L205.61,160.06 L206.04,160.12 L206.47,160.17 L206.89,160.23 L207.32,160.29 L207.75,160.34 L208.17,160.40 L208.60,160.45 L209.03,160.50 L209.45,160.56 L209.88,160.61 L210.30,160.66 L210.73,160.71 L211.16,160.76 L211.58,160.80 L212.01,160.85 L212.44,160.90 L212.86,160.94 L213.29,160.99 L213.72,161.03 L214.14,161.08 L214.57,161.12 L215.00,161.16 L215.42,161.20 L215.85,161.24 L216.27,161.28 L216.70,161.32 L217.13,161.36 L217.55,161.40 L217.98,161.44 L218.41,161.48 L218.83,161.51 L219.26,161.55 L219.69,161.59 L220.11,161.62 L220.54,161.66 L220.96,161.69 L221.39,161.72 L221.82,161.76 L222.24,161.79 L222.67,161.82 L223.10,161.85 L223.52,161.88 L223.95,161.92 L224.38,161.95 L224.80,161.98 L225.23,162.00 L225.66,162.03 L226.08,162.06 L226.51,162.09 L226.93,162.12 L227.36,162.15 L227.79,162.17 L228.21,162.20 L228.64,162.23 L229.07,162.25 L229.49,162.28 L229.92,162.30 L230.35,162.33 L230.77,162.35 L231.20,162.37 L231.63,162.40 L232.05,162.42 L232.48,162.45 L232.90,162.47 L233.33,162.49 L233.76,162.51 L234.18,162.53 L234.61,162.56 L235.04,162.58 L235.46,162.60 L235.89,162.62 L236.32,162.64 L236.74,162.66 L237.17,162.68 L237.60,162.70 L238.02,162.72 L238.45,162.74 L238.87,162.76 L239.30,162.78 L239.73,162.79 L240.15,162.81 L240.58,162.83 L241.01,162.85 L241.43,162.86 L241.86,162.88 L242.29,162.90 L242.71,162.92 L243.14,162.93 L243.56,162.95 L243.99,162.96 L244.42,162.98 L244.84,163.00 L245.27,163.01 L245.70,163.03 L246.12,163.04 L246.55,163.06 L246.98,163.07 L247.40,163.09 L247.83,163.10 L248.26,163.12 L248.68,163.13 L249.11,163.14 L249.53,163.16 L249.96,163.17 L250.39,163.18 L250.81,163.20 L251.24,163.21 L251.67,163.22 L252.09,163.24 L252.52,163.25 L252.95,163.26 L253.37,163.27 L253.80,163.28 L254.23,163.30 L254.65,163.31 L255.08,163.32 L255.50,163.33 L255.93,163.34 L256.36,163.35 L256.78,163.37 L257.21,163.38 L257.64,163.39 L258.06,163.40 L258.49,163.41 L258.92,163.42 L259.34,163.43 L259.77,163.44 L260.20,163.45 L260.62,163.46 L261.05,163.47 L261.47,163.48 L261.90,163.49 L262.33,163.50 L262.75,163.51 L263.18,163.52 L263.61,163.53 L264.03,163.54 L264.46,163.55 L264.89,163.55 L265.31,163.56" stroke="#0000ff" stroke-width="1.4" fill="none"/>
<path d="M122.91,150.60 L122.98,150.60 L123.06,150.60 L123.13,150.60 L123.21,150.60 L123.28,150.60 L123.36,150.60 L123.43,150.60 L123.51,150.60 L123.58,150.60 L123.65,150.60 L123.73,150.60 L123.80,150.60 L123.88,150.60 L123.95,150.60 L124.03,150.60 L124.10,150.60 L124.17,150.60 L124.25,150.60 L124.32,150.60 L124.40,150.60 L124.47,150.60 L124.55,150.60 L124.62,150.60 L124.70,150.60 L124.77,150.60 L124.84,150.60 L124.92,150.60 L124.99,150.60 L125.07,150.60 L125.14,150.60 L125.22,150.60 L125.29,150.60 L125.36,150.60 L125.44,150.60 L125.51,150.60 L125.59,150.60 L125.66,150.60 L125.74,150.60 L125.81,150.60 L125.89,150.60 L125.96,150.60 L126.03,150.60 L126.11,150.60 L126.18,150.60 L126.26,150.60 L126.33,150.60 L126.41,150.60 L126.48,150.60 L126.56,150.60 L126.63,150.60 L126.70,150.60 L126.78,150.60 L126.85,150.60 L126.93,150.60 L127.00,150.60 L127.08,150.60 L127.15,150.60 L127.22,150.60 L127.30,150.60 L127.37,150.60 L127.45,150.60 L127.52,150.60 L127.60,150.60 L127.67,150.60 L127.75,150.60 L127.82,150.60 L127.89,150.60 L127.97,150.60 L128.04,150.60 L128.12,150.60 L128.19,150.60 L128.27,150.60 L128.34,150.60 L128.41,150.60 L128.49,150.60 L128.56,150.60 L128.64,150.60 L128.71,150.60 L128.79,150.60 L128.86,150.60 L128.94,150.60 L129.01,150.60 L129.08,150.60 L129.16,150.60 L129.23,150.60 L129.31,150.60 L129.38,150.60 L129.46,150.60 L129.53,150.60 L129.60,150.60 L129.68,150.60 L129.75,150.60 L129.83,150.60 L129.90,150.60 L129.98,150.60 L130.05,150.60 L130.13,150.60 L130.20,150.60 L130.27,150.60 L130.35,150.60 L130.42,150.60 L130.50,150.60 L130.57,150.60 L130.65,150.60 L130.72,150.60 L130.79,150.60 L130.87,150.60 L130.94,150.60 L131.02,150.60 L131.09,150.60 L131.17,150.60 L131.24,150.60 L131.32,150.60 L131.39,150.60 L131.46,150.60 L131.54,150.60 L131.61,150.60 L131.69,150.60 L131.76,150.60 L131.84,150.60 L131.91,150.60 L131.98,150.60 L132.06,150.60 L132.13,150.60 L132.21,150.60 L132.28,150.60 L132.36,150.60 L132.43,150.60 L132.51,150.60 L132.58,150.60 L132.65,150.60 L132.73,150.60 L132.80,150.60 L132.88,150.60 L132.95,150.60 L133.03,150.60 L133.10,150.60 L133.17,150.60 L133.25,150.60 L133.32,150.60 L133.40,150.60 L133.47,150.60 L133.55,150.60 L133.62,150.60 L133.70,150.60 L133.77,150.60 L133.84,150.60 L133.92,150.60 L133.99,150.60 L134.07,150.60 L134.14,150.60 L134.22,150.60 L134.29,150.60 L134.36,150.60 L134.44,150.60 L134.51,150.60 L134.59,150.60 L134.66,150.60 L134.74,150.60 L134.81,150.60 L134.89,150.60 L134.96,150.60 L135.03,150.60 L135.11,150.60 L135.18,150.60 L135.26,150.60 L135.33,150.60 L135.41,150.60 L135.48,150.60 L135.55,150.60 L135.63,150.60 L135.70,150.60 L135.78,150.60 L135.85,150.60 L135.93,150.60 L136.00,150.60 L136.08,150.60 L136.15,150.60 L136.22,150.60 L136.30,150.60 L136.37,150.60 L136.45,150.60 L136.52,150.60 L136.60,150.60 L136.67,150.60 L136.75,150.60 L136.82,150.60 L136.89,150.60 L136.97,150.60 L137.04,150.60 L137.12,150.60 L137.19,150.60 L137.27,150.60 L137.34,150.60 L137.41,150.60 L137.49,150.60 L137.56,150.60 L137.64,150.60 L137.71,150.60 L137.81,150.60 L138.24,150.60 L138.67,150.60 L139.09,150.60 L139.52,150.60 L139.95,150.60 L140.37,150.60 L140.80,150.60 L141.23,150.60 L141.65,150.61 L142.08,150.61 L142.50,150.61 L142.93,150.61 L143.36,150.61 L143.78,150.61 L144.21,150.61 L144.64,150.61 L145.06,150.61 L145.49,150.61 L145.92,150.62 L146.34,150.62 L146.77,150.62 L147.20,150.62 L147.62,150.63 L148.05,150.63 L148.47,150.64 L148.90,150.64 L149.33,150.65 L149.75,150.66 L150.18,150.67 L150.61,150.67 L151.03,150.68 L151.46,150.69 L151.89,150.71 L152.31,150.72 L152.74,150.73 L153.17,150.75 L153.59,150.76 L154.02,150.78 L154.44,150.80 L154.87,150.82 L155.30,150.84 L155.72,150.87 L156.15,150.89 L156.58,150.91 L157.00,150.94 L157.43,150.97 L157.86,151.00 L158.28,151.03 L158.71,151.06 L159.13,151.10 L159.56,151.13 L159.99,151.17 L160.41,151.21 L160.84,151.25 L161.27,151.29 L161.69,151.33 L162.12,151.38 L162.55,151.42 L162.97,151.47 L163.40,151.52 L163.83,151.57 L164.25,151.62 L164.68,151.67 L165.10,151.72 L165.53,151.78 L165.96,151.83 L166.38,151.89 L166.81,151.95 L167.24,152.00 L167.66,152.06 L168.09,152.13 L168.52,152.19 L168.94,152.25 L169.37,152.31 L169.80,152.38 L170.22,152.44 L170.65,152.51 L171.07,152.58 L171.50,152.65 L171.93,152.71 L172.35,152.78 L172.78,152.85 L173.21,152.92 L173.63,153.00 L174.06,153.07 L174.49,153.14 L174.91,153.21 L175.34,153.28 L175.76,153.36 L176.19,153.43 L176.62,153.51 L177.04,153.58 L177.47,153.66 L177.90,153.73 L178.32,153.81 L178.75,153.88 L179.18,153.96 L179.60,154.03 L180.03,154.11 L180.46,154.18 L180.88,154.26 L181.31,154.33 L181.73,154.41 L182.16,154.49 L182.59,154.56 L183.01,154.64 L183.44,154.71 L183.87,154.79 L184.29,154.86 L184.72,154.94 L185.15,155.01 L185.57,155.09 L186.00,155.16 L186.43,155.24 L186.85,155.31 L187.28,155.39 L187.70,155.46 L188.13,155.53 L188.56,155.61 L188.98,155.68 L189.41,155.75 L189.84,155.83 L190.26,155.90 L190.69,155.97 L191.12,156.04 L191.54,156.11 L191.97,156.18 L192.40,156.25 L192.82,156.32 L193.25,156.39 L193.67,156.46 L194.10,156.53 L194.53,156.60 L194.95,156.67 L195.38,156.73 L195.81,156.80 L196.23,156.87 L196.66,156.93 L197.09,157.00 L197.51,157.06 L197.94,157.13 L198.36,157.19 L198.79,157.26 L199.22,157.32 L199.64,157.38 L200.07,157.44 L200.50,157.51 L200.92,157.57 L201.35,157.63 L201.78,157.69 L202.20,157.75 L202.63,157.81 L203.06,157.87 L203.48,157.93 L203.91,157.98 L204.33,158.04 L204.76,158.10 L205.19,158.16 L205.61,158.21 L206.04,158.27 L206.47,158.32 L206.89,158.38 L207.32,158.43 L207.75,158.49 L208.17,158.54 L208.60,158.59 L209.03,158.65 L209.45,158.70 L209.88,158.75 L210.30,158.80 L210.73,158.85 L211.16,158.90 L211.58,158.95 L212.01,159.00 L212.44,159.05 L212.86,159.10 L213.29,159.15 L213.72,159.19 L214.14,159.24 L214.57,159.29 L215.00,159.33 L215.42,159.38 L215.85,159.43 L216.27,159.47 L216.70,159.52 L217.13,159.56 L217.55,159.60 L217.98,159.65 L218.41,159.69 L218.83,159.73 L219.26,159.77 L219.69,159.82 L220.11,159.86 L220.54,159.90 L220.96,159.94 L221.39,159.98 L221.82,160.02 L222.24,160.06 L222.67,160.10 L223.10,160.14 L223.52,160.17 L223.95,160.21 L224.38,160.25 L224.80,160.29 L225.23,160.32 L225.66,160.36 L226.08,160.40 L226.51,160.43 L226.93,160.47 L227.36,160.50 L227.79,160.54 L228.21,160.57 L228.64,160.60 L229.07,160.64 L229.49,160.67 L229.92,160.70 L230.35,160.74 L230.77,160.77 L231.20,160.80 L231.63,160.83 L232.05,160.87 L232.48,160.90 L232.90,160.93 L233.33,160.96 L233.76,160.99 L234.18,161.02 L234.61,161.05 L235.04,161.08 L235.46,161.11 L235.89,161.14 L236.32,161.16 L236.74,161.19 L237.17,161.22 L237.60,161.25 L238.02,161.28 L238.45,161.30 L238.87,161.33 L239.30,161.36 L239.73,161.38 L240.15,161.41 L240.58,161.43 L241.01,161.46 L241.43,161.49 L241.86,161.51 L242.29,161.54 L242.71,161.56 L243.14,161.58 L243.56,161.61 L243.99,161.63 L244.42,161.66 L244.84,161.68 L245.27,161.70 L245.70,161.73 L246.12,161.75 L246.55,161.77 L246.98,161.79 L247.40,161.82 L247.83,161.84 L248.26,161.86 L248.68,161.88 L249.11,161.90 L249.53,161.92 L249.96,161.94 L250.39,161.97 L250.81,161.99 L251.24,162.01 L251.67,162.03 L252.09,162.05 L252.52,162.07 L252.95,162.09 L253.37,162.10 L253.80,162.12 L254.23,162.14 L254.65,162.16 L255.08,162.18 L255.50,162.20 L255.93,162.22 L256.36,162.24 L256.78,162.25 L257.21,162.27 L257.64,162.29 L258.06,162.31 L258.49,162.32 L258.92,162.34 L259.34,162.36 L259.77,162.37 L260.20,162.39 L260.62,162.41 L261.05,162.42 L261.47,162.44 L261.90,162.46 L262.33,162.47 L262.75,162.49 L263.18,162.50 L263.61,162.52 L264.03,162.53 L264.46,162.55 L264.89,162.56 L265.31,162.58" stroke="#00ff00" stroke-width="1.4" fill="none"/>
<path d="M122.91,-0.60 L122.98,-0.60 L123.06,-0.60 L123.13,-0.60 L123.21,-0.60 L123.28,-0.60 L123.36,-0.60 L123.43,-0.60 L123.51,-0.60 L123.58,-0.60 L123.65,-0.60 L123.73,-0.60 L123.80,-0.60 L123.88,-0.60 L123.95,-0.60 L124.03,-0.60 L124.10,-0.60 L124.17,-0.60 L124.25,-0.60 L124.32,-0.60 L124.40,-0.60 L124.47,-0.60 L124.55,3.84 L124.62,13.50 L124.70,22.24 L124.77,30.17 L124.84,37.38 L124.92,43.96 L124.99,49.99 L125.07,55.52 L125.14,60.61 L125.22,65.29 L125.29,69.62 L125.36,73.63 L125.44,77.35 L125.51,80.80 L125.59,84.02 L125.66,87.02 L125.74,89.82 L125.81,92.43 L125.89,94.89 L125.96,97.19 L126.03,99.35 L126.11,101.38 L126.18,103.29 L126.26,105.09 L126.33,106.80 L126.41,108.40 L126.48,109.92 L126.56,111.36 L126.63,112.73 L126.70,114.02 L126.78,115.25 L126.85,116.42 L126.93,117.53 L127.00,118.59 L127.08,119.59 L127.15,120.55 L127.22,121.47 L127.30,122.34 L127.37,123.18 L127.45,123.98 L127.52,124.74 L127.60,125.47 L127.67,126.17 L127.75,126.84 L127.82,127.49 L127.89,128.11 L127.97,128.70 L128.04,129.27 L128.12,129.82 L128.19,130.34 L128.27,130.85 L128.34,131.34 L128.41,131.81 L128.49,132.26 L128.56,132.70 L128.64,133.12 L128.71,133.52 L128.79,133.91 L128.86,134.29 L128.94,134.66 L129.01,135.01 L129.08,135.35 L129.16,135.68 L129.23,136.00 L129.31,136.30 L129.38,136.60 L129.46,136.89 L129.53,137.17 L129.60,137.44 L129.68,137.70 L129.75,137.95 L129.83,138.19 L129.90,138.43 L129.98,138.66 L130.05,138.88 L130.13,139.10 L130.20,139.31 L130.27,139.51 L130.35,139.70 L130.42,139.89 L130.50,140.07 L130.57,140.25 L130.65,140.42 L130.72,140.58 L130.79,140.74 L130.87,140.90 L130.94,141.05 L131.02,141.19 L131.09,141.33 L131.17,141.46 L131.24,141.59 L131.32,141.71 L131.39,141.83 L131.46,141.94 L131.54,142.05 L131.61,142.15 L131.69,142.25 L131.76,142.35 L131.84,142.44 L131.91,142.52 L131.98,142.60 L132.06,142.68 L132.13,142.75 L132.21,142.82 L132.28,142.88 L132.36,142.94 L132.43,143.00 L132.51,143.05 L132.58,143.09 L132.65,143.13 L132.73,143.17 L132.80,143.20 L132.88,143.23 L132.95,143.26 L133.03,143.28 L133.10,143.30 L133.17,143.31 L133.25,143.32 L133.32,143.32 L133.40,143.32 L133.47,143.32 L133.55,143.31 L133.62,143.30 L133.70,143.29 L133.77,143.27 L133.84,143.24 L133.92,143.22 L133.99,143.19 L134.07,143.15 L134.14,143.11 L134.22,143.07 L134.29,143.03 L134.36,142.98 L134.44,142.93 L134.51,142.87 L134.59,142.81 L134.66,142.75 L134.74,142.68 L134.81,142.61 L134.89,142.54 L134.96,142.47 L135.03,142.39 L135.11,142.31 L135.18,142.22 L135.26,142.13 L135.33,142.04 L135.41,141.95 L135.48,141.85 L135.55,141.75 L135.63,141.65 L135.70,141.54 L135.78,141.43 L135.85,141.32 L135.93,141.21 L136.00,141.09 L136.08,140.98 L136.15,140.86 L136.22,140.73 L136.30,140.61 L136.37,140.48 L136.45,140.35 L136.52,140.22 L136.60,140.09 L136.67,139.95 L136.75,139.81 L136.82,139.68 L136.89,139.53 L136.97,139.39 L137.04,139.25 L137.12,139.10 L137.19,138.96 L137.27,138.81 L137.34,138.66 L137.41,138.51 L137.49,138.35 L137.56,138.20 L137.64,138.05 L137.71,137.89 L137.81,137.68 L138.24,136.76 L138.67,135.82 L139.09,134.88 L139.52,133.93 L139.95,133.00 L140.37,132.08 L140.80,131.18 L141.23,130.31 L141.65,129.48 L142.08,128.68 L142.50,127.93 L142.93,127.22 L143.36,126.56 L143.78,125.94 L144.21,125.37 L144.64,124.85 L145.06,124.38 L145.49,123.96 L145.92,123.59 L146.34,123.26 L146.77,122.97 L147.20,122.73 L147.62,122.54 L148.05,122.38 L148.47,122.26 L148.90,122.18 L149.33,122.13 L149.75,122.12 L150.18,122.14 L150.61,122.19 L151.03,122.26 L151.46,122.36 L151.89,122.49 L152.31,122.64 L152.74,122.81 L153.17,123.00 L153.59,123.20 L154.02,123.43 L154.44,123.67 L154.87,123.92 L155.30,124.19 L155.72,124.46 L156.15,124.75 L156.58,125.05 L157.00,125.36 L157.43,125.67 L157.86,125.99 L158.28,126.32 L158.71,126.66 L159.13,127.00 L159.56,127.34 L159.99,127.68 L160.41,128.03 L160.84,128.38 L161.27,128.74 L161.69,129.09 L162.12,129.45 L162.55,129.81 L162.97,130.16 L163.40,130.52 L163.83,130.88 L164.25,131.24 L164.68,131.59 L165.10,131.95 L165.53,132.30 L165.96,132.65 L166.38,133.00 L166.81,133.35 L167.24,133.70 L167.66,134.04 L168.09,134.39 L168.52,134.73 L168.94,135.06 L169.37,135.40 L169.80,135.73 L170.22,136.06 L170.65,136.39 L171.07,136.71 L171.50,137.03 L171.93,137.35 L172.35,137.66 L172.78,137.97 L173.21,138.28 L173.63,138.59 L174.06,138.89 L174.49,139.19 L174.91,139.48 L175.34,139.78 L175.76,140.07 L176.19,140.35 L176.62,140.64 L177.04,140.91 L177.47,141.19 L177.90,141.46 L178.32,141.73 L178.75,142.00 L179.18,142.26 L179.60,142.53 L180.03,142.78 L180.46,143.04 L180.88,143.29 L181.31,143.54 L181.73,143.78 L182.16,144.02 L182.59,144.26 L183.01,144.50 L183.44,144.73 L183.87,144.96 L184.29,145.19 L184.72,145.41 L185.15,145.63 L185.57,145.85 L186.00,146.07 L186.43,146.28 L186.85,146.49 L187.28,146.70 L187.70,146.90 L188.13,147.11 L188.56,147.31 L188.98,147.50 L189.41,147.70 L189.84,147.89 L190.26,148.08 L190.69,148.27 L191.12,148.45 L191.54,148.63 L191.97,148.81 L192.40,148.99 L192.82,149.17 L193.25,149.34 L193.67,149.51 L194.10,149.68 L194.53,149.85 L194.95,150.01 L195.38,150.17 L195.81,150.33 L196.23,150.49 L196.66,150.65 L197.09,150.80 L197.51,150.95 L197.94,151.10 L198.36,151.25 L198.79,151.40 L199.22,151.54 L199.64,151.68 L200.07,151.82 L200.50,151.96 L200.92,152.10 L201.35,152.24 L201.78,152.37 L202.20,152.50 L202.63,152.63 L203.06,152.76 L203.48,152.89 L203.91,153.01 L204.33,153.14 L204.76,153.26 L205.19,153.38 L205.61,153.50 L206.04,153.62 L206.47,153.73 L206.89,153.85 L207.32,153.96 L207.75,154.07 L208.17,154.18 L208.60,154.29 L209.03,154.40 L209.45,154.51 L209.88,154.61 L210.30,154.72 L210.73,154.82 L211.16,154.92 L211.58,155.02 L212.01,155.12 L212.44,155.22 L212.86,155.31 L213.29,155.41 L213.72,155.50 L214.14,155.59 L214.57,155.69 L215.00,155.78 L215.42,155.87 L215.85,155.95 L216.27,156.04 L216.70,156.13 L217.13,156.21 L217.55,156.30 L217.98,156.38 L218.41,156.46 L218.83,156.54 L219.26,156.62 L219.69,156.70 L220.11,156.78 L220.54,156.86 L220.96,156.93 L221.39,157.01 L221.82,157.08 L222.24,157.16 L222.67,157.23 L223.10,157.30 L223.52,157.37 L223.95,157.44 L224.38,157.51 L224.80,157.58 L225.23,157.64 L225.66,157.71 L226.08,157.78 L226.51,157.84 L226.93,157.91 L227.36,157.97 L227.79,158.03 L228.21,158.09 L228.64,158.16 L229.07,158.22 L229.49,158.28 L229.92,158.34 L230.35,158.39 L230.77,158.45 L231.20,158.51 L231.63,158.56 L232.05,158.62 L232.48,158.68 L232.90,158.73 L233.33,158.78 L233.76,158.84 L234.18,158.89 L234.61,158.94 L235.04,158.99 L235.46,159.04 L235.89,159.09 L236.32,159.14 L236.74,159.19 L237.17,159.24 L237.60,159.29 L238.02,159.34 L238.45,159.38 L238.87,159.43 L239.30,159.47 L239.73,159.52 L240.15,159.56 L240.58,159.61 L241.01,159.65 L241.43,159.70 L241.86,159.74 L242.29,159.78 L242.71,159.82 L243.14,159.86 L243.56,159.91 L243.99,159.95 L244.42,159.99 L244.84,160.03 L245.27,160.06 L245.70,160.10 L246.12,160.14 L246.55,160.18 L246.98,160.22 L247.40,160.25 L247.83,160.29 L248.26,160.33 L248.68,160.36 L249.11,160.40 L249.53,160.43 L249.96,160.47 L250.39,160.50 L250.81,160.54 L251.24,160.57 L251.67,160.60 L252.09,160.64 L252.52,160.67 L252.95,160.70 L253.37,160.73 L253.80,160.77 L254.23,160.80 L254.65,160.83 L255.08,160.86 L255.50,160.89 L255.93,160.92 L256.36,160.95 L256.78,160.98 L257.21,161.01 L257.64,161.04 L258.06,161.06 L258.49,161.09 L258.92,161.12 L259.34,161.15 L259.77,161.18 L260.20,161.20 L260.62,161.23 L261.05,161.26 L261.47,161.28 L261.90,161.31 L262.33,161.33 L262.75,161.36 L263.18,161.38 L263.61,161.41 L264.03,161.43 L264.46,161.46 L264.89,161.48 L265.31,161.51" stroke="#ff0000" stroke-width="1.6" fill="none"/>
</g>
<circle cx="317.7" cy="51.4" r="2.9" stroke="#000" stroke-width="0.8" fill="none"/>
<path d="M304,65.6H330.8" stroke="#ff0000" stroke-width="1.3"/>
<path d="M304,80.0H330.8" stroke="#00ff00" stroke-width="1.3"/>
<path d="M304,94.4H330.8" stroke="#0000ff" stroke-width="1.3"/>
<path d="M304,108.8H330.8" stroke="#ff00ff" stroke-width="1.3"/>
<text x="334.2" y="55.0" font-family="Liberation Sans, sans-serif" font-size="11" letter-spacing="0.33">Experimental</text>
<text x="334.2" y="69.5" font-family="Liberation Sans, sans-serif" font-size="11" letter-spacing="0.33">Total fit</text>
<text x="334.2" y="83.9" font-family="Liberation Sans, sans-serif" font-size="11" letter-spacing="0.33">Debye</text>
<text x="334.2" y="98.3" font-family="Liberation Sans, sans-serif" font-size="11" letter-spacing="0.33">Einstein</text>
<text x="334.2" y="112.8" font-family="Liberation Sans, sans-serif" font-size="11" letter-spacing="0.33">Electronic</text>
<text x="88.0" y="306.8" font-family="Liberation Sans, sans-serif" font-size="14.2" letter-spacing="0.7" text-anchor="middle">0</text>
<text x="148.8" y="306.8" font-family="Liberation Sans, sans-serif" font-size="14.2" letter-spacing="0.7" text-anchor="middle">50</text>
<text x="209.7" y="306.8" font-family="Liberation Sans, sans-serif" font-size="14.2" letter-spacing="0.7" text-anchor="middle">100</text>
<text x="270.5" y="306.8" font-family="Liberation Sans, sans-serif" font-size="14.2" letter-spacing="0.7" text-anchor="middle">150</text>
<text x="331.4" y="306.8" font-family="Liberation Sans, sans-serif" font-size="14.2" letter-spacing="0.7" text-anchor="middle">200</text>
<text x="392.2" y="306.8" font-family="Liberation Sans, sans-serif" font-size="14.2" letter-spacing="0.7" text-anchor="middle">250</text>
<text x="83.0" y="293.2" font-family="Liberation Sans, sans-serif" font-size="14.2" letter-spacing="0.7" text-anchor="end">0</text>
<text x="83.0" y="261.7" font-family="Liberation Sans, sans-serif" font-size="14.2" letter-spacing="0.7" text-anchor="end">10</text>
<text x="83.0" y="230.3" font-family="Liberation Sans, sans-serif" font-size="14.2" letter-spacing="0.7" text-anchor="end">20</text>
<text x="83.0" y="198.8" font-family="Liberation Sans, sans-serif" font-size="14.2" letter-spacing="0.7" text-anchor="end">30</text>
<text x="83.0" y="167.3" font-family="Liberation Sans, sans-serif" font-size="14.2" letter-spacing="0.7" text-anchor="end">40</text>
<text x="83.0" y="135.8" font-family="Liberation Sans, sans-serif" font-size="14.2" letter-spacing="0.7" text-anchor="end">50</text>
<text x="83.0" y="104.4" font-family="Liberation Sans, sans-serif" font-size="14.2" letter-spacing="0.7" text-anchor="end">60</text>
<text x="83.0" y="72.9" font-family="Liberation Sans, sans-serif" font-size="14.2" letter-spacing="0.7" text-anchor="end">70</text>
<text x="256.1" y="333.9" font-family="Liberation Sans, sans-serif" font-size="18" letter-spacing="1.2" text-anchor="middle">T (K)</text>
<text transform="translate(42.1,228.3) rotate(-90)" font-family="Liberation Sans, sans-serif" font-size="18">C</text>
<text transform="translate(50.9,215.6) rotate(-90)" font-family="Liberation Sans, sans-serif" font-size="12" font-style="italic">p</text>
<text transform="translate(42.1,203.7) rotate(-90)" font-family="Liberation Sans, sans-serif" font-size="18" letter-spacing="0.85">(J/mole K)</text>
<text x="122.4" y="173" font-family="Liberation Sans, sans-serif" font-size="7.8" text-anchor="middle">0</text>
<text x="147.9" y="173" font-family="Liberation Sans, sans-serif" font-size="7.8" text-anchor="middle">50</text>
<text x="173.4" y="173" font-family="Liberation Sans, sans-serif" font-size="7.8" text-anchor="middle">100</text>
<text x="199.0" y="173" font-family="Liberation Sans, sans-serif" font-size="7.8" text-anchor="middle">150</text>
<text x="224.5" y="173" font-family="Liberation Sans, sans-serif" font-size="7.8" text-anchor="middle">200</text>
<text x="250.0" y="173" font-family="Liberation Sans, sans-serif" font-size="7.8" text-anchor="middle">250</text>
<text x="120.3" y="167.3" font-family="Liberation Sans, sans-serif" font-size="7.8" text-anchor="end">0</text>
<text x="120.3" y="143.7" font-family="Liberation Sans, sans-serif" font-size="7.8" text-anchor="end">2</text>
<text x="120.3" y="120.1" font-family="Liberation Sans, sans-serif" font-size="7.8" text-anchor="end">4</text>
<text x="120.3" y="96.5" font-family="Liberation Sans, sans-serif" font-size="7.8" text-anchor="end">6</text>
<text x="120.3" y="72.9" font-family="Liberation Sans, sans-serif" font-size="7.8" text-anchor="end">8</text>
<text x="120.3" y="49.3" font-family="Liberation Sans, sans-serif" font-size="7.8" text-anchor="end">10</text>
<text x="182.6" y="187.3" font-family="Liberation Sans, sans-serif" font-size="9.2" letter-spacing="0.45"><tspan font-style="italic">T</tspan> (K)</text>
<text transform="translate(107.4,147.5) rotate(-90)" font-family="Liberation Sans, sans-serif" font-size="10"><tspan font-style="italic">C</tspan><tspan font-size="6.3" stroke="#000" stroke-width="0.2" font-style="italic" dy="4.2">p</tspan><tspan dy="-4.2">/</tspan><tspan font-style="italic">T</tspan><tspan font-size="6.3" stroke="#000" stroke-width="0.25" dy="-4.8">3</tspan><tspan dy="4.8"> (10</tspan><tspan font-size="6.3" stroke="#000" stroke-width="0.25" dy="-4.8">-5</tspan><tspan dy="4.8" letter-spacing="0.2"> J/molK</tspan><tspan font-size="6.3" stroke="#000" stroke-width="0.25" dy="-4.8">4</tspan><tspan dy="4.8">)</tspan></text>
<text x="184.0" y="84.1" font-family="Liberation Serif, serif" font-size="20">α</text>
<text x="195.5" y="84.1" font-family="Liberation Sans, sans-serif" font-size="18" letter-spacing="0.6">-FeSi</text>
<text x="240.8" y="91.7" font-family="Liberation Sans, sans-serif" font-size="12">2</text>
</svg></body></html>
